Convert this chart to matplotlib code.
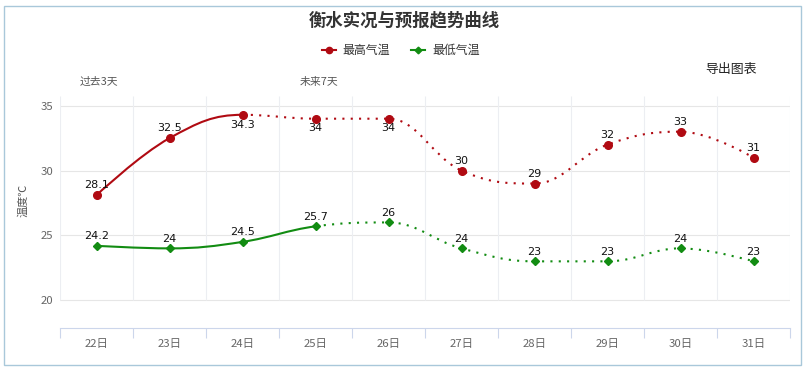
import matplotlib
matplotlib.use("Agg")
import matplotlib.pyplot as plt
from matplotlib.path import Path
from matplotlib.patches import PathPatch, Rectangle
from matplotlib.lines import Line2D

plt.rcParams['font.family'] = ['Noto Sans CJK SC', 'DejaVu Sans']

# ---- data ----
days = ['22日', '23日', '24日', '25日', '26日', '27日', '28日', '29日', '30日', '31日']
high = [28.1, 32.5, 34.3, 34, 34, 30, 29, 32, 33, 31]
low = [24.2, 24, 24.5, 25.7, 26, 24, 23, 23, 24, 23]
high_solid_until = 2   # index of last observed point (solid line)
low_solid_until = 3
yticks = [20, 25, 30, 35]
title = '衡水实况与预报趋势曲线'
series_names = ['最高气温', '最低气温']

RED = '#B00A12'
GREEN = '#128C12'
W, H = 808, 371

fig = plt.figure(figsize=(W / 100, H / 100), dpi=100)

def fx(x):
    return x / W

def fy(y):
    return 1 - y / H

ax = fig.add_axes([fx(60), fy(328), fx(790) - fx(60), fy(96) - fy(328)])
ymin, ymax = 17.86, 35.75
ax.set_xlim(-0.5, len(days) - 0.5)
ax.set_ylim(ymin, ymax)

# grid
for yt in yticks:
    ax.axhline(yt, color='#e6e6e6', lw=0.8, zorder=0)
bounds = [i - 0.5 for i in range(len(days) + 1)]
ax.vlines(bounds, yticks[0], ymax, colors='#eceef2', lw=0.8, zorder=0)

for s in ['top', 'right', 'left']:
    ax.spines[s].set_visible(False)
ax.spines['bottom'].set_color('#ccd6eb')
ax.spines['bottom'].set_linewidth(0.8)

ax.set_xticks(range(len(days)))
ax.set_xticklabels(days, fontsize=8.2, color='#666666')
ax.set_xticks(bounds, minor=True)
ax.tick_params(axis='x', which='major', length=0, pad=8)
ax.tick_params(axis='x', which='minor', length=7, color='#ccd6eb', width=0.8)
ax.set_yticks(yticks)
ax.set_yticklabels([str(v) for v in yticks], fontsize=8.2, color='#666666')
ax.tick_params(axis='y', length=0, pad=5)


def hc_spline(xs, ys, smoothing=1.5):
    n = len(xs)
    denom = smoothing + 1
    left = [(xs[i], ys[i]) for i in range(n)]
    right = [(xs[i], ys[i]) for i in range(n)]
    for i in range(1, n - 1):
        px_, py_ = xs[i], ys[i]
        lx, ly = xs[i - 1], ys[i - 1]
        nx, ny = xs[i + 1], ys[i + 1]
        lcx = (smoothing * px_ + lx) / denom
        lcy = (smoothing * py_ + ly) / denom
        rcx = (smoothing * px_ + nx) / denom
        rcy = (smoothing * py_ + ny) / denom
        corr = 0
        if rcx != lcx:
            corr = ((rcy - lcy) * (rcx - px_)) / (rcx - lcx) + py_ - rcy
        lcy += corr
        rcy += corr
        if lcy > ly and lcy > py_:
            lcy = max(ly, py_)
            rcy = 2 * py_ - lcy
        elif lcy < ly and lcy < py_:
            lcy = min(ly, py_)
            rcy = 2 * py_ - lcy
        if rcy > ny and rcy > py_:
            rcy = max(ny, py_)
            lcy = 2 * py_ - rcy
        elif rcy < ny and rcy < py_:
            rcy = min(ny, py_)
            lcy = 2 * py_ - rcy
        left[i] = (lcx, lcy)
        right[i] = (rcx, rcy)
    return left, right


def draw_series(vals, split, color, marker, ms):
    xs = list(range(len(vals)))
    left, right = hc_spline(xs, vals)

    def seg_path(i0, i1):
        verts = [(xs[i0], vals[i0])]
        codes = [Path.MOVETO]
        for i in range(i0 + 1, i1 + 1):
            verts += [right[i - 1], left[i], (xs[i], vals[i])]
            codes += [Path.CURVE4] * 3
        return Path(verts, codes)

    ax.add_patch(PathPatch(seg_path(0, split), fill=False, edgecolor=color,
                           lw=1.5, zorder=3, capstyle='round'))
    ax.add_patch(PathPatch(seg_path(split, len(vals) - 1), fill=False,
                           edgecolor=color, lw=1.5, linestyle=(0, (1, 3)),
                           zorder=3, capstyle='butt'))
    ax.plot(xs, vals, linestyle='none', marker=marker, ms=ms, color=color,
            zorder=4)
    for x, v in zip(xs, vals):
        lab = f'{v:g}'
        if v > 33.5:
            ax.annotate(lab, (x, v), xytext=(0, -7), textcoords='offset points',
                        ha='center', va='center', fontsize=8, color='#111111',
                        family='DejaVu Sans', zorder=5)
        else:
            ax.annotate(lab, (x, v), xytext=(0, 7), textcoords='offset points',
                        ha='center', va='center', fontsize=8, color='#111111',
                        family='DejaVu Sans', zorder=5)


draw_series(high, high_solid_until, RED, 'o', 5.5)
draw_series(low, low_solid_until, GREEN, 'D', 3.6)

# title
fig.text(fx(404), fy(20), title, ha='center', va='center', fontsize=12.5,
         fontweight='bold', color='#333333')

# legend (manual)
lax = fig.add_axes([0, 0, 1, 1], facecolor='none')
lax.set_xlim(0, W)
lax.set_ylim(H, 0)
lax.axis('off')
lax.add_line(Line2D([322, 336], [50, 50], color=RED, lw=1.5, marker='o',
                    markevery=[0], ms=0))
lax.plot([329], [50], marker='o', ms=4.5, color=RED)
lax.text(342, 50, series_names[0], ha='left', va='center', fontsize=8.6,
         color='#333333')
lax.add_line(Line2D([411, 425], [50, 50], color=GREEN, lw=1.5))
lax.plot([418], [50], marker='D', ms=3.4, color=GREEN)
lax.text(432, 50, series_names[1], ha='left', va='center', fontsize=8.6,
         color='#333333')

# annotations
lax.text(705, 70, '导出图表', ha='left', va='center', fontsize=9.3,
         color='#222222')
lax.text(80, 82, '过去3天', ha='left', va='center', fontsize=7.8,
         color='#555555')
lax.text(300, 82, '未来7天', ha='left', va='center', fontsize=7.8,
         color='#555555')
lax.text(23, 200, '温度℃', ha='center', va='center', rotation=90,
         fontsize=8, color='#555555')

# border
lax.add_patch(Rectangle((3.5, 5.5), 797, 359, fill=False,
                        edgecolor='#a9c8da', lw=1.0))

fig.savefig('out.png', dpi=100, facecolor='white')
